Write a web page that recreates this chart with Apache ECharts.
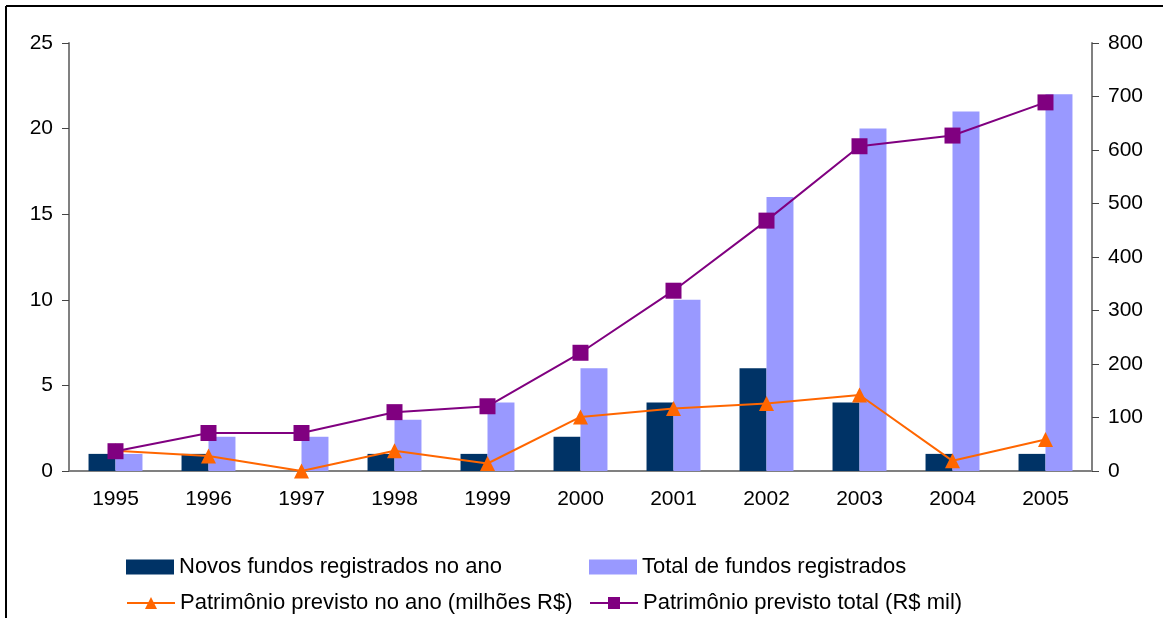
<!DOCTYPE html>
<html>
<head>
<meta charset="utf-8">
<script src="https://cdn.jsdelivr.net/npm/echarts@6/dist/echarts.min.js"></script>
<style>
  html, body { margin: 0; padding: 0; background: #fff; }
  #chart { width: 1163px; height: 618px; }
</style>
</head>
<body>
<div id="chart"></div>
<script>
  // anos
  var anos = ['1995', '1996', '1997', '1998', '1999', '2000', '2001', '2002', '2003', '2004', '2005']
  // barras (eixo esquerdo)
  var novosFundos = [1, 1, 0, 1, 1, 2, 4, 6, 4, 1, 1]
  var totalFundos = [1, 2, 2, 3, 4, 6, 10, 16, 20, 21, 22]
  // linhas (eixo direito)
  var patrimonioAno = [38, 28, 0, 38, 14, 101, 117, 126, 142, 19, 59]
  var patrimonioTotal = [37, 71, 71, 110, 121, 221, 337, 468, 607, 627, 689]

  var nomes = [
    'Novos fundos registrados no ano',
    'Total de fundos registrados',
    'Patrimônio previsto no ano (milhões R$)',
    'Patrimônio previsto total (R$ mil)',
  ]

  var fonte = 'Liberation Sans, Arial, sans-serif'
  var eixoCor = '#808080'

  // uma legenda por item, em duas linhas
  var legendPos = [
    { left: 126, top: 556, icon: 'rect' },
    { left: 589, top: 556, icon: 'rect' },
    { left: 126, top: 592 },
    { left: 589, top: 592 },
  ]
  var legends = legendPos.map(function (p, i) {
    var l = {
      data: [nomes[i]],
      left: p.left,
      top: p.top,
      padding: 0,
      itemWidth: 48,
      itemHeight: 15,
      itemTextGap: 5,
      textStyle: { fontFamily: fonte, fontSize: 22, color: '#000' },
    }
    if (p.icon) l.icon = p.icon
    return l
  })

  var myChart = echarts.init(document.getElementById('chart'))
  var option = {
    animation: false,
    textStyle: { fontFamily: fonte },
    grid: { left: 69, right: 71, top: 43, bottom: 147 },
    graphic: [
      // moldura (só topo e esquerda aparecem no recorte)
      { type: 'line', shape: { x1: 6, y1: 6, x2: 1163, y2: 6 }, style: { stroke: '#000', lineWidth: 2 } },
      { type: 'line', shape: { x1: 6, y1: 6, x2: 6, y2: 618 }, style: { stroke: '#000', lineWidth: 2 } },
    ],
    legend: legends,
    xAxis: {
      type: 'category',
      data: anos,
      axisLine: { lineStyle: { color: eixoCor, width: 2 } },
      axisTick: { length: 7, lineStyle: { color: '#444' } },
      axisLabel: { color: '#000', fontSize: 21, margin: 18, fontFamily: fonte },
    },
    yAxis: [
      {
        type: 'value',
        min: 0,
        max: 25,
        interval: 5,
        splitLine: { show: false },
        axisLine: { show: true, lineStyle: { color: eixoCor, width: 2 } },
        axisTick: { show: true, length: 7, lineStyle: { color: '#444' } },
        axisLabel: { color: '#000', fontSize: 21, margin: 16, fontFamily: fonte },
      },
      {
        type: 'value',
        min: 0,
        max: 800,
        interval: 100,
        splitLine: { show: false },
        axisLine: { show: true, lineStyle: { color: eixoCor, width: 2 } },
        axisTick: { show: true, length: 7, lineStyle: { color: '#444' } },
        axisLabel: { color: '#000', fontSize: 21, margin: 16, fontFamily: fonte },
      },
    ],
    series: [
      {
        name: nomes[0],
        type: 'bar',
        data: novosFundos,
        barGap: 0,
        barCategoryGap: '42%',
        itemStyle: { color: '#003366' },
      },
      {
        name: nomes[1],
        type: 'bar',
        data: totalFundos,
        barGap: 0,
        barCategoryGap: '42%',
        itemStyle: { color: '#9999FF' },
      },
      {
        name: nomes[2],
        type: 'line',
        yAxisIndex: 1,
        data: patrimonioAno,
        symbol: 'triangle',
        symbolSize: 15,
        lineStyle: { color: '#FF6600', width: 2 },
        itemStyle: { color: '#FF6600' },
      },
      {
        name: nomes[3],
        type: 'line',
        yAxisIndex: 1,
        data: patrimonioTotal,
        symbol: 'rect',
        symbolSize: 16,
        lineStyle: { color: '#800080', width: 2 },
        itemStyle: { color: '#800080' },
      },
    ],
  }

  option && myChart.setOption(option)
</script>
</body>
</html>
